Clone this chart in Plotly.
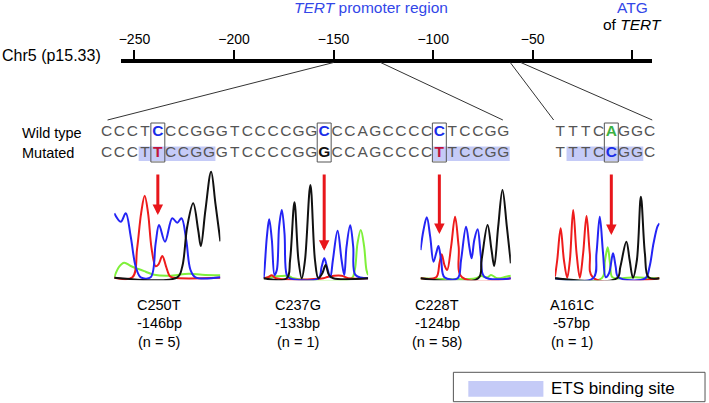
import plotly.graph_objects as go

# ======================= DATA =======================
chrom_label = "Chr5 (p15.33)"
axis_tick_bp = [-250, -200, -150, -100, -50, 0]
axis_tick_text = ["\u2212250", "\u2212200", "\u2212150", "\u2212100", "\u221250", ""]

seq1_start_bp = -150
seq1_wild = "CCCTCCCGGGTCCCCGGCCCAGCCCCCTCCGG"
seq1_mut = "CCCTTCCGGGTCCCCGGGCCAGCCCCTTCCGG"
seq2_start_bp = -61
seq2_wild = "TTTCAGGC"
seq2_mut = "TTTCCGGC"

mut_names = ["C250T", "C237G", "C228T", "A161C"]
mut_bp = [-146, -133, -124, -57]
mut_n = [5, 1, 58, 1]
ets_sites_bp = [(-147, -142), (-124, -119), (-60, -55)]
zoom_segments_bp = [(-150, -126.4), (-61.3, -56)]

# chromatogram traces: (scan, intensity)
c250t_green = [(0, 1), (5, 11.6), (10, 15.6), (16.6, 12.3), (25, 9), (31.6, 6.6), (40, 3.6),
               (55, 2.6), (75, 4.6), (88.3, 3.6), (106.6, 3)]
c250t_red = [(0, 0.5), (18.3, 1), (23, 30), (27, 65), (30.6, 82.6), (34, 65), (37.5, 30),
             (41.6, 12), (44.5, 14), (48.3, 22.3), (52, 12), (56, 2), (60, 0.5), (106.6, 0.5)]
c250t_blue = [(0, 65), (6.6, 56.6), (11.6, 65), (16.6, 41.6), (21.6, 11.6), (26.6, 1), (36.6, 1),
              (41.6, 35), (45, 53.3), (51, 36.6), (58.3, 60), (63.3, 55.6), (67.6, 60), (72.3, 38.3),
              (76.6, 8.3), (81.6, 1), (106.6, 1)]
c250t_black = [(0, 0.5), (63.3, 1), (68.3, 11.6), (73.3, 51.6), (79.3, 75), (84.3, 48.3), (87, 32.3),
               (91.6, 68.3), (97.3, 106.6), (101.6, 75), (106.6, 37)]

c237g_green = [(0, 0), (25, 2.3), (30, 0), (88.3, 0), (91.6, 8.3), (94.3, 35), (97.6, 48.3),
               (101, 31.6), (103.3, 8.3), (105, 3.3)]
c237g_red = [(0, 0), (4.3, 1), (8.3, 3), (12.3, 0), (60, 0), (65, 1.6), (78.3, 2.6), (85, 0), (105, 0)]
c237g_blue = [(0, 0), (1, 10), (3.3, 41.6), (5.6, 59), (8.3, 38.3), (11, 3.3), (13.3, 8.3),
              (15.6, 51.6), (18.3, 68.3), (21, 45), (23.3, 3.3), (26.6, 0), (55, 0), (58.3, 11.6),
              (61, 20), (63.6, 11.6), (67, 1), (69.6, 18.3), (74.3, 47.6), (78.3, 18.3), (81, 3.3),
              (83.3, 31.6), (87, 53), (90, 31.6), (92.3, 3.3), (105, 0)]
c237g_black = [(0, 0), (23.3, 0), (26.6, 18.3), (31, 76), (35, 18.3), (38.3, 0), (41.6, 18.3),
               (47, 93.3), (51.6, 18.3), (55, 0), (59, 5), (62.3, 13.3), (65.6, 3.3), (70, 0), (105, 0)]

c228t_green = [(0, 0), (55.7, 0), (60.7, 2.3), (67.3, 1), (70.7, 3.3), (77.3, 0), (85.7, 1.6), (90.7, 2.6)]
c228t_red = [(0, 0), (15.7, 1), (19, 15), (21.3, 24), (24, 13.3), (26.7, 8.3), (30.7, 31.6),
             (34.7, 61.6), (38.3, 31.6), (41.7, 1), (90.7, 0)]
c228t_blue = [(0, 28.3), (3, 48.3), (6.3, 61), (9.7, 41.6), (13, 16.6), (15.7, 25), (18, 32.3),
              (20.7, 18.3), (24, 1), (37.3, 0), (40.7, 18.3), (45.7, 51.6), (49, 31.6), (51.3, 20),
              (54, 38.3), (57.3, 49), (60.7, 21.6), (64, 1.6), (90.7, 0)]
c228t_black = [(0, 0), (58, 0), (61.3, 18.3), (67.3, 53.3), (71.3, 28.3), (74, 12.3), (78, 51.6),
               (82.3, 88.3), (86.7, 51.6), (90.7, 15)]

a161c_green = [(0, 0), (47, 0), (50.3, 18.3), (53, 31), (55.3, 15), (57.7, 1), (67, 0), (80.3, 1),
               (95.7, 0), (105, 0)]
a161c_red = [(0, 1.6), (2.3, 18.3), (5.7, 50), (9, 18.3), (12.3, 0.6), (15, 18.3), (18.3, 68.3),
             (21.7, 25), (25, 0.6), (28.3, 25), (31.7, 62.3), (35, 25), (38.3, 0.6), (105, 0)]
a161c_blue = [(0, 0), (38.3, 0), (41.7, 25), (45, 61.6), (48.3, 25), (51, 1), (54.3, 5), (58.3, 25),
              (61, 11.6), (63.7, 1), (90.7, 0), (95, 11.6), (99, 35), (103, 52), (105, 55)]
a161c_black = [(0, 0), (62.3, 0), (65.7, 11.6), (71.7, 36.6), (75, 18.3), (78.3, 0.6), (82.3, 18.3),
               (86.3, 81.6), (90.3, 25), (94, 1), (105, 0)]

panels = [
    [c250t_green, c250t_red, c250t_blue, c250t_black],
    [c237g_green, c237g_red, c237g_blue, c237g_black],
    [c228t_green, c228t_red, c228t_blue, c228t_black],
    [a161c_green, a161c_red, a161c_blue, a161c_black],
]

# ======================= LAYOUT / STYLE =======================
W, H = 709, 403
FONT = "Liberation Sans, Arial, Helvetica, sans-serif"
TITLE_BLUE = "#3347e8"
BASE_COLORS = {"C": "#1a2ee8", "T": "#c0143c", "G": "#111111", "A": "#3cb043"}
TRACE_COLORS = ["#7ff03a", "#ee1c1c", "#2424f5", "#111111"]
SEQ_GRAY = "#555555"
ETS_FILL = "#c5cbf7"

AX_Y = 60.5
AX_PX = (119, 652)
AX_BP = (-256.5, 10)

SEQ_ORIGINS = [(seq1_start_bp, 104.1), (seq2_start_bp, 559.5)]
PITCH = 12.85
ROW_Y = (132.5, 153.3)
BOX_Y = (123, 162)
BOX_HALF = 7
HL_Y = (146.5, 161)
ZOOM_BOTTOM_PX = [(105, 502), (553, 652)]
LINE_Y = (62.5, 120)

ARROW_TOP = 173
ARROW_TIP = [215, 250.7, 234, 235]
PANEL_X = [111.7, 261.7, 419.3, 554.3]
PANEL_W = [106.6, 105, 90.7, 105]
BASELINE = 278.3
LABEL_X = [156.7, 296, 436, 571]
LABEL_Y = [305, 323.3, 341.7]
LEFT_SHIFT = -4


def bp_to_px(bp):
    return AX_PX[0] + (bp - AX_BP[0]) * (AX_PX[1] - AX_PX[0]) / (AX_BP[1] - AX_BP[0])


def seq_px(bp):
    start, x0 = SEQ_ORIGINS[1] if bp >= seq2_start_bp else SEQ_ORIGINS[0]
    return x0 + (bp - start) * PITCH


fig = go.Figure()

# ---- sequences as text ----
xs, ys, txt, cols = [], [], [], []
for start, wild, mut in [(seq1_start_bp, seq1_wild, seq1_mut), (seq2_start_bp, seq2_wild, seq2_mut)]:
    for row, s in enumerate([wild, mut]):
        for i, ch in enumerate(s):
            bp = start + i
            xs.append(seq_px(bp))
            ys.append(ROW_Y[row])
            if bp in mut_bp:
                txt.append("<b>%s</b>" % ch)
                cols.append(BASE_COLORS[ch])
            else:
                txt.append(ch)
                cols.append(SEQ_GRAY)
fig.add_trace(go.Scatter(x=xs, y=ys, text=txt, mode="text", textposition="middle center",
                         textfont=dict(family=FONT, size=15.5, color=cols),
                         hoverinfo="skip", showlegend=False, xaxis="x", yaxis="y"))

# ---- chromosome axis dummy trace ----
fig.add_trace(go.Scatter(x=axis_tick_bp, y=[0] * len(axis_tick_bp), mode="markers",
                         marker=dict(opacity=0), hoverinfo="skip", showlegend=False,
                         xaxis="x2", yaxis="y2"))

# ---- chromatograms ----
layout_axes = {}
for k, (traces, x0, w) in enumerate(zip(panels, PANEL_X, PANEL_W)):
    ax = k + 3
    for pts, col in zip(traces, TRACE_COLORS):
        fig.add_trace(go.Scatter(x=[p[0] for p in pts], y=[p[1] for p in pts], mode="lines",
                                 line=dict(color=col, width=2, shape="spline", smoothing=1),
                                 hoverinfo="skip", showlegend=False,
                                 xaxis="x%d" % ax, yaxis="y%d" % ax))
    layout_axes["xaxis%d" % ax] = dict(domain=[x0 / W, (x0 + w) / W], range=[0, w], visible=False,
                                       anchor="y%d" % ax, fixedrange=True)
    layout_axes["yaxis%d" % ax] = dict(domain=[1 - (BASELINE + 2) / H, 1 - (BASELINE - 112) / H],
                                       range=[-2, 112], visible=False, anchor="x%d" % ax,
                                       fixedrange=True)

shapes = []
# ETS highlights
for a, b in ets_sites_bp:
    shapes.append(dict(type="rect", xref="x", yref="y", x0=seq_px(a) - PITCH / 2, x1=seq_px(b) + PITCH / 2,
                       y0=HL_Y[0], y1=HL_Y[1], fillcolor=ETS_FILL, line=dict(width=0), layer="below"))
# mutation boxes
for bp in mut_bp:
    shapes.append(dict(type="rect", xref="x", yref="y", x0=seq_px(bp) - BOX_HALF, x1=seq_px(bp) + BOX_HALF,
                       y0=BOX_Y[0], y1=BOX_Y[1], line=dict(color="#555555", width=1), layer="above"))
# zoom lines
for (a, b), (pa, pb) in zip(zoom_segments_bp, ZOOM_BOTTOM_PX):
    for top_bp, bot in [(a, pa), (b, pb)]:
        shapes.append(dict(type="line", xref="x", yref="y", x0=bp_to_px(top_bp), y0=LINE_Y[0],
                           x1=bot, y1=LINE_Y[1], line=dict(color="#333333", width=1)))
# legend box
shapes.append(dict(type="rect", xref="x", yref="y", x0=452.3, x1=705, y0=372.3, y1=401.7,
                   line=dict(color="#555555", width=1), fillcolor="white", layer="below"))
shapes.append(dict(type="rect", xref="x", yref="y", x0=467.3, x1=542.7, y0=381, y1=396.7,
                   line=dict(width=0), fillcolor=ETS_FILL, layer="above"))

ann = []


def label(x, y, text, size=15, color="black", xanchor="center"):
    ann.append(dict(x=x, y=y, xref="x", yref="y", text=text, showarrow=False, xanchor=xanchor,
                    yanchor="middle", xshift=LEFT_SHIFT if xanchor == "left" else 0,
                    font=dict(family=FONT, size=size, color=color)))


label(0.5, 55.5, chrom_label, size=16, xanchor="left")
label(369.5, 7, "<i>TERT</i> promoter region", size=15.5, color=TITLE_BLUE)
label(bp_to_px(0), 7, "ATG", size=15.5, color=TITLE_BLUE)
label(bp_to_px(0), 24.5, "of <i>TERT</i>", size=15.5)
label(21, ROW_Y[0], "Wild type", size=14.5, xanchor="left")
label(21, ROW_Y[1], "Mutated", size=14.5, xanchor="left")
label(552.7, 388.5, "ETS binding site", size=17, xanchor="left")

for name, bp, n, lx, tip in zip(mut_names, mut_bp, mut_n, LABEL_X, ARROW_TIP):
    label(lx, LABEL_Y[0], name, size=14.5)
    label(lx, LABEL_Y[1], "%dbp" % bp, size=14.5)
    label(lx, LABEL_Y[2], "(n = %d)" % n, size=14.5)
    ax_px = seq_px(bp)
    ann.append(dict(x=ax_px, y=tip, ax=ax_px, ay=ARROW_TOP, xref="x", yref="y", axref="x", ayref="y",
                    text="", showarrow=True, arrowhead=2, arrowsize=0.7, arrowwidth=3,
                    arrowcolor="#e8161b", standoff=0))

fig.update_layout(
    width=W, height=H, autosize=False,
    margin=dict(l=0, r=0, t=0, b=0),
    paper_bgcolor="white", plot_bgcolor="rgba(0,0,0,0)",
    showlegend=False,
    xaxis=dict(domain=[0, 1], range=[0, W], visible=False, fixedrange=True),
    yaxis=dict(domain=[0, 1], range=[H, 0], visible=False, fixedrange=True),
    xaxis2=dict(domain=[AX_PX[0] / W, AX_PX[1] / W], range=list(AX_BP), anchor="free",
                position=1 - AX_Y / H, side="top", showline=True, linewidth=4, linecolor="black",
                ticks="outside", ticklen=9, tickwidth=2, tickcolor="black",
                tickvals=axis_tick_bp, ticktext=axis_tick_text, showgrid=False, zeroline=False,
                tickfont=dict(family=FONT, size=14, color="black"), fixedrange=True),
    yaxis2=dict(domain=[0, 1], visible=False, anchor="x2", fixedrange=True),
    shapes=shapes, annotations=ann,
    font=dict(family=FONT),
    **layout_axes,
)

fig.write_html("out.html", config={"displayModeBar": False},
               post_script="document.body.style.margin='0px';document.body.style.overflow='hidden';")
